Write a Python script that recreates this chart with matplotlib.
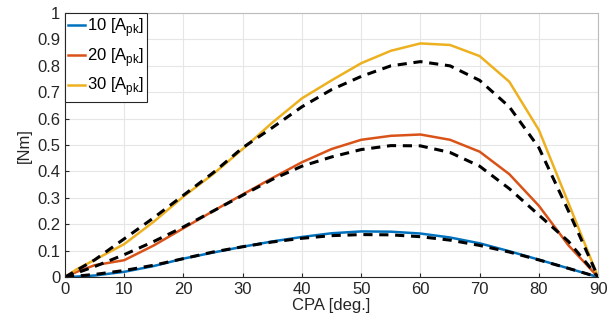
import numpy as np
import matplotlib.pyplot as plt

plt.rcParams['font.family'] = ['Liberation Sans', 'DejaVu Sans']

# CPA angle [deg.]
cpa = [0, 2, 5, 10, 15, 20, 25, 30, 35, 40, 45, 50, 55, 60, 65, 70, 75, 80, 85, 90]

# measured torque (solid)
t10 = [0, 0.002, 0.006, 0.02, 0.042, 0.07, 0.093, 0.115, 0.135, 0.152, 0.166, 0.173, 0.172, 0.165, 0.15, 0.128, 0.098, 0.066, 0.033, 0]
t20 = [0, 0.02, 0.045, 0.064, 0.12, 0.185, 0.25, 0.313, 0.375, 0.435, 0.485, 0.52, 0.535, 0.54, 0.52, 0.475, 0.39, 0.27, 0.12, 0]
t30 = [0, 0.03, 0.065, 0.125, 0.21, 0.305, 0.39, 0.485, 0.585, 0.677, 0.745, 0.81, 0.857, 0.885, 0.879, 0.837, 0.74, 0.557, 0.28, 0]

# model torque (dashed)
cpa_m = [0, 5, 10, 15, 20, 25, 30, 35, 40, 45, 50, 55, 60, 65, 70, 75, 80, 85, 90]
m10 = [0, 0.01, 0.025, 0.045, 0.07, 0.095, 0.115, 0.133, 0.147, 0.157, 0.161, 0.16, 0.153, 0.14, 0.12, 0.095, 0.065, 0.033, 0]
m20 = [0, 0.04, 0.085, 0.135, 0.19, 0.25, 0.31, 0.37, 0.42, 0.455, 0.483, 0.498, 0.497, 0.472, 0.42, 0.335, 0.235, 0.135, 0]
m30 = [0, 0.065, 0.145, 0.225, 0.31, 0.395, 0.49, 0.566, 0.645, 0.71, 0.76, 0.8, 0.816, 0.8, 0.745, 0.645, 0.49, 0.25, 0]

labels = ['10 [A$_{\\mathregular{pk}}$]', '20 [A$_{\\mathregular{pk}}$]', '30 [A$_{\\mathregular{pk}}$]']
colors = ['#0072BD', '#D95319', '#EDB120']

fig = plt.figure(figsize=(6.16, 3.26), dpi=100)
ax = fig.add_axes([0.1055, 0.150, 0.8655, 0.810])

for t, c, lab in zip([t10, t20, t30], colors, labels):
    ax.plot(cpa, t, color=c, lw=1.8, label=lab)
for m in [m10, m20, m30]:
    ax.plot(cpa_m, m, color='black', lw=2.2, ls=(0, (3, 2.2)))

ax.set_xlim(0, 90)
ax.set_ylim(0, 1)
ax.set_xticks(np.arange(0, 91, 10))
ax.set_yticks(np.arange(0, 1.01, 0.1))
ax.set_yticklabels(['0', '0.1', '0.2', '0.3', '0.4', '0.5', '0.6', '0.7', '0.8', '0.9', '1'])
ax.grid(True, color='#e6e6e6', lw=0.8)
ax.tick_params(direction='in', labelsize=12, colors='#262626', length=3)
for s in ax.spines.values():
    s.set_color('#bbbbbb')
ax.spines['left'].set_color('#262626')
ax.spines['bottom'].set_color('#262626')
ax.set_xlabel('CPA [deg.]', fontsize=12, color='#262626', labelpad=1)
ax.set_ylabel('[Nm]', fontsize=12, color='#262626', labelpad=4)

leg = ax.legend(loc='upper left', borderaxespad=0, fancybox=False, edgecolor='#262626',
                fontsize=12, handlelength=1.0, handletextpad=0.1, borderpad=0.2,
                labelspacing=0.4, framealpha=1)
leg.get_frame().set_linewidth(0.8)

fig.savefig('out.png', dpi=100)
